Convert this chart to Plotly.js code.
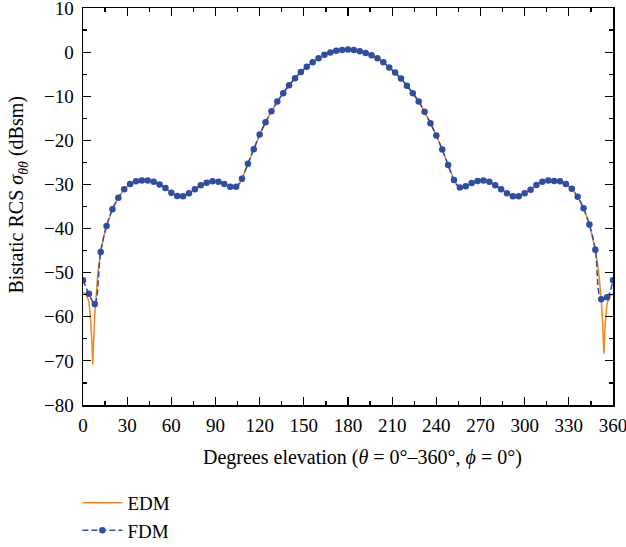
<!DOCTYPE html>
<html>
<head>
<meta charset="utf-8">
<script src="https://cdn.plot.ly/plotly-3.0.1.min.js"></script>
<style>
  html, body { margin: 0; padding: 0; background: #ffffff; }
  #chart { width: 626px; height: 547px; }
</style>
</head>
<body>
<div id="chart"></div>
<script>
// FDM samples (markers every 4 degrees)
const fdmTheta = [0,4,8,12,16,20,24,28,32,36,40,44,48,52,56,60,64,68,72,76,80,84,88,92,96,100,104,108,112,116,120,124,128,132,136,140,144,148,152,156,160,164,168,172,176,180,184,188,192,196,200,204,208,212,216,220,224,228,232,236,240,244,248,252,256,260,264,268,272,276,280,284,288,292,296,300,304,308,312,316,320,324,328,332,336,340,344,348,352,356,360];
const fdmRcs = [-51.7,-54.8,-57.1,-45.3,-39.4,-35.6,-33.0,-31.1,-29.9,-29.3,-29.1,-29.1,-29.4,-30.0,-30.8,-31.9,-32.6,-32.7,-32.0,-31.1,-30.2,-29.6,-29.3,-29.4,-29.9,-30.5,-30.5,-28.7,-25.3,-22.0,-18.7,-15.9,-13.4,-11.2,-9.3,-7.5,-5.9,-4.5,-3.3,-2.3,-1.4,-0.6,-0.1,0.3,0.5,0.6,0.5,0.2,-0.2,-0.7,-1.4,-2.3,-3.5,-4.6,-6.0,-7.6,-9.3,-11.2,-13.5,-16.1,-18.9,-22.1,-25.6,-29.0,-30.7,-30.4,-29.7,-29.2,-29.1,-29.4,-30.2,-31.1,-32.0,-32.7,-32.7,-32.0,-31.2,-30.1,-29.4,-29.1,-29.2,-29.3,-29.9,-31.0,-32.8,-35.4,-39.1,-44.8,-56.0,-55.6,-51.7];

// EDM curve
const edmTheta = [0,2,4,5,6,6.6,7.2,8,10,12,14,16,20,24,28,32,36,40,44,48,52,56,60,64,68,72,76,80,84,88,92,96,100,104,106,108,112,116,120,124,128,132,136,140,144,148,152,156,160,164,168,172,176,180,184,188,192,196,200,204,208,212,216,220,224,228,232,236,240,244,248,252,254,256,260,264,268,272,276,280,284,288,292,296,300,304,308,312,316,320,324,328,332,336,340,344,348,350,352,353,353.8,354.6,356,358,360];
const edmRcs = [-54.5,-54.8,-56.5,-60.0,-65.5,-70.8,-65.5,-59.5,-50.5,-45.3,-42.0,-39.4,-35.6,-33.0,-31.1,-29.9,-29.3,-29.1,-29.1,-29.4,-30.0,-30.8,-31.9,-32.6,-32.7,-32.0,-31.1,-30.2,-29.6,-29.3,-29.4,-29.9,-30.5,-30.6,-30.1,-28.7,-25.3,-22.0,-18.7,-15.9,-13.4,-11.2,-9.3,-7.5,-5.9,-4.5,-3.3,-2.3,-1.4,-0.6,-0.1,0.3,0.5,0.6,0.5,0.2,-0.2,-0.7,-1.4,-2.3,-3.5,-4.6,-6.0,-7.6,-9.3,-11.2,-13.5,-16.1,-18.9,-22.1,-25.6,-29.0,-30.2,-30.7,-30.4,-29.7,-29.2,-29.1,-29.4,-30.2,-31.1,-32.0,-32.7,-32.7,-32.0,-31.2,-30.1,-29.4,-29.1,-29.2,-29.3,-29.9,-31.0,-32.8,-35.4,-39.1,-44.8,-49.0,-56.0,-61.5,-68.4,-62.0,-57.0,-55.2,-54.8];

const xTicks = [0,30,60,90,120,150,180,210,240,270,300,330,360];
const yTicks = [10,0,-10,-20,-30,-40,-50,-60,-70,-80];

const orange = '#f5841f';
const blue = '#2e4ea3';
const serif = '"Liberation Serif", "DejaVu Serif", serif';

const traces = [
  {
    x: edmTheta, y: edmRcs, name: 'EDM', type: 'scatter', mode: 'lines',
    line: { color: orange, width: 1.5 }, legendgroup: 'a'
  },
  {
    x: fdmTheta, y: fdmRcs, name: 'FDM', type: 'scatter', mode: 'lines+markers',
    line: { color: blue, width: 1.5, dash: '6px,3px', shape: 'spline', smoothing: 1 },
    marker: { color: blue, size: 6.5 }, legendgroup: 'b'
  }
];

const axisCommon = {
  showgrid: false, zeroline: false, showline: true, linecolor: '#000', linewidth: 1.5,
  mirror: 'ticks', ticks: 'inside', ticklen: 8, tickwidth: 1.2, tickcolor: '#000',
  ticklabeloverflow: 'allow',
  tickfont: { family: serif, size: 19, color: '#000' }
};

const layout = {
  width: 626, height: 547,
  margin: { l: 83, r: 13, t: 8, b: 142, autoexpand: false },
  paper_bgcolor: '#fff', plot_bgcolor: '#fff',
  showlegend: true,
  legend: {
    x: -0.0106, xanchor: 'left', y: -0.1985, yanchor: 'top',
    font: { family: serif, size: 19, color: '#000' },
    itemwidth: 40,
    tracegroupgap: 0, bgcolor: 'rgba(0,0,0,0)'
  },
  xaxis: Object.assign({}, axisCommon, {
    range: [0, 360], tickvals: xTicks, ticktext: xTicks.map(String),
    ticklabelstandoff: 3,
    minor: { ticks: 'inside', dtick: 15, tick0: 0, ticklen: 4, tickwidth: 1.2, tickcolor: '#000' }
  }),
  yaxis: Object.assign({}, axisCommon, {
    range: [-80, 10], tickvals: yTicks, ticktext: yTicks.map(v => v < 0 ? '−' + Math.abs(v) : String(v)),
    ticklabelstandoff: 4,
    minor: { ticks: 'inside', dtick: 5, tick0: 0, ticklen: 4, tickwidth: 1.2, tickcolor: '#000' }
  }),
  annotations: [
    {
      text: 'Degrees elevation (<i>θ</i> = 0°–360°, <i>ϕ</i> = 0°)',
      xref: 'paper', yref: 'paper', x: 0.528, y: -0.131, xanchor: 'center', yanchor: 'middle',
      showarrow: false, font: { family: serif, size: 20, color: '#000' }
    },
    {
      text: 'Bistatic RCS <i>σ</i><sub><i>θθ</i></sub> (dBsm)',
      xref: 'paper', yref: 'paper', x: -0.1226, y: 0.53, xanchor: 'center', yanchor: 'middle',
      textangle: -90,
      showarrow: false, font: { family: serif, size: 20, color: '#000' }
    }
  ]
};

Plotly.newPlot('chart', traces, layout, { displayModeBar: false, staticPlot: true });
</script>
</body>
</html>
